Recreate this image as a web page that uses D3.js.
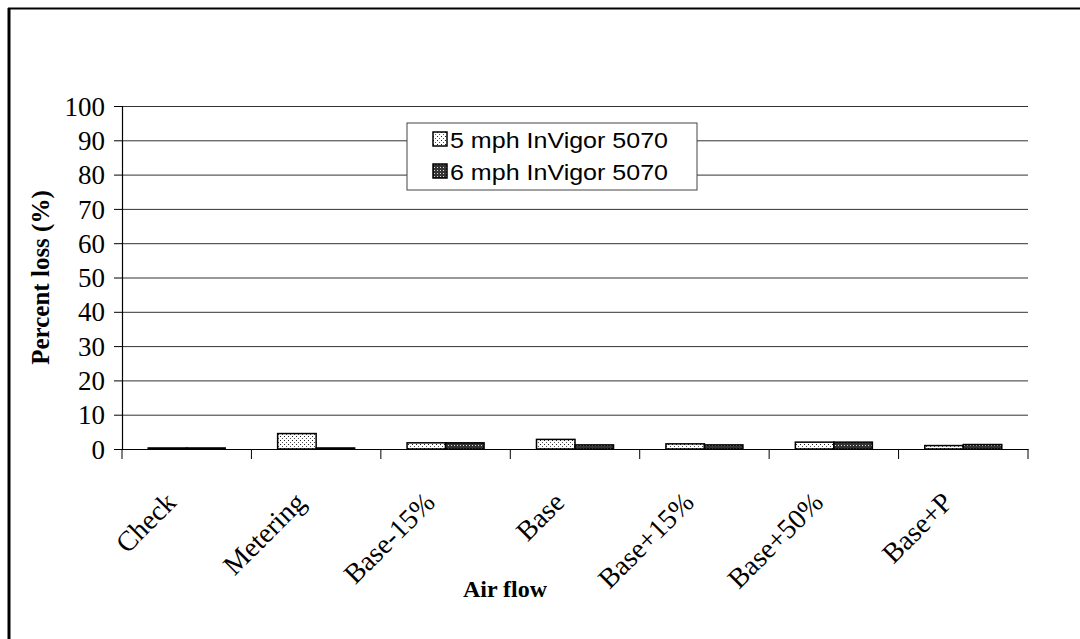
<!DOCTYPE html>
<html>
<head>
<meta charset="utf-8">
<script src="https://cdn.jsdelivr.net/npm/d3@7"></script>
<style>
  body { margin: 0; background: #fff; }
  svg { display: block; }
</style>
</head>
<body>
<div id="chart"></div>
<script>
const categories = ["Check", "Metering", "Base-15%", "Base", "Base+15%", "Base+50%", "Base+P"];
const seriesNames = ["5 mph InVigor 5070", "6 mph InVigor 5070"];
const mph5 = [0.3, 4.5, 1.8, 2.8, 1.5, 2.0, 1.0];
const mph6 = [0.3, 0.3, 1.8, 1.2, 1.2, 2.0, 1.3];
const yTicks = [0, 10, 20, 30, 40, 50, 60, 70, 80, 90, 100];

const width = 1080, height = 639;
const margin = { top: 106, right: 52, bottom: 190, left: 122 };
const serif = "Liberation Serif, Times New Roman, serif";

const svg = d3.select("#chart").append("svg")
  .attr("width", width).attr("height", height);

// patterns
const defs = svg.append("defs");
const p1 = defs.append("pattern").attr("id", "pat5")
  .attr("width", 4).attr("height", 4).attr("patternUnits", "userSpaceOnUse");
p1.append("rect").attr("width", 4).attr("height", 4).attr("fill", "#fff");
p1.append("rect").attr("x", 0).attr("y", 0).attr("width", 1).attr("height", 1).attr("fill", "#222");
p1.append("rect").attr("x", 2).attr("y", 2).attr("width", 1).attr("height", 1).attr("fill", "#555");
const p2 = defs.append("pattern").attr("id", "pat6")
  .attr("width", 3).attr("height", 3).attr("patternUnits", "userSpaceOnUse");
p2.append("rect").attr("width", 3).attr("height", 3).attr("fill", "#333");
p2.append("rect").attr("x", 1).attr("y", 1).attr("width", 1).attr("height", 1).attr("fill", "#ddd");

// outer frame
svg.append("line").attr("x1", 9).attr("x2", 9).attr("y1", 8).attr("y2", height)
  .attr("stroke", "#000").attr("stroke-width", 3);
svg.append("line").attr("x1", 8).attr("x2", width).attr("y1", 8.5).attr("y2", 8.5)
  .attr("stroke", "#000").attr("stroke-width", 2);

const x = d3.scaleBand().domain(categories)
  .range([margin.left, width - margin.right]);
const y = d3.scaleLinear().domain([0, 100])
  .range([height - margin.bottom, margin.top]);
const x1 = d3.scaleBand().domain(seriesNames)
  .range([0, 77]);

// gridlines
svg.append("g").selectAll("line").data(yTicks.slice(1)).join("line")
  .attr("x1", margin.left).attr("x2", width - margin.right)
  .attr("y1", d => y(d) + 0.5).attr("y2", d => y(d) + 0.5)
  .attr("stroke", "#333").attr("stroke-width", 1);

// bars
const series = [mph5, mph6];
const pats = ["url(#pat5)", "url(#pat6)"];
series.forEach((vals, si) => {
  svg.append("g").selectAll("rect").data(categories).join("rect")
    .attr("x", (c) => x(c) + (x.bandwidth() - 77) / 2 + x1(seriesNames[si]))
    .attr("y", (c, i) => y(vals[i]))
    .attr("width", x1.bandwidth())
    .attr("height", (c, i) => y(0) - y(vals[i]))
    .attr("fill", pats[si])
    .attr("stroke", "#000").attr("stroke-width", 1.5);
});

// y axis
const yAxis = svg.append("g")
  .attr("transform", `translate(${margin.left},0)`)
  .call(d3.axisLeft(y).tickValues(yTicks).tickSize(8).tickPadding(9));
yAxis.select(".domain").attr("stroke", "#000").attr("stroke-width", 1.2);
yAxis.selectAll("line").attr("stroke", "#000");
yAxis.selectAll("text")
  .attr("font-family", serif)
  .attr("font-size", 27).attr("fill", "#000")
  .attr("dy", "0.34em");

// x axis
const xAxis = svg.append("g")
  .attr("transform", `translate(0,${y(0)})`)
  .call(d3.axisBottom(x).tickSize(0).tickFormat(""));
xAxis.select(".domain").attr("stroke", "#000").attr("stroke-width", 1.2);
const bounds = d3.range(categories.length + 1).map(i => margin.left + i * x.step());
svg.append("g").selectAll("line").data(bounds).join("line")
  .attr("x1", d => d).attr("x2", d => d)
  .attr("y1", y(0)).attr("y2", y(0) + 10)
  .attr("stroke", "#000");
svg.append("g").selectAll("text").data(categories).join("text")
  .attr("transform", c => `translate(${x(c) + x.bandwidth() / 2 - 9},${y(0) + 55}) rotate(-45)`)
  .attr("text-anchor", "end")
  .attr("font-family", serif)
  .attr("font-size", 28).attr("fill", "#000")
  .text(c => c);

// axis titles
svg.append("text")
  .attr("transform", `translate(49,${(y(0) + y(100)) / 2}) rotate(-90)`)
  .attr("text-anchor", "middle")
  .attr("font-family", serif)
  .attr("font-weight", "bold").attr("font-size", 25)
  .text("Percent loss (%)");
svg.append("text")
  .attr("x", 505).attr("y", 597)
  .attr("text-anchor", "middle")
  .attr("font-family", serif)
  .attr("font-weight", "bold").attr("font-size", 24)
  .text("Air flow");

// legend
const lg = svg.append("g").attr("transform", "translate(407,123)");
lg.append("rect").attr("width", 290).attr("height", 67)
  .attr("fill", "#fff").attr("stroke", "#444").attr("stroke-width", 1);
seriesNames.forEach((s, i) => {
  const row = lg.append("g").attr("transform", `translate(26,${17 + i * 32})`);
  row.append("rect").attr("x", 0).attr("y", -8).attr("width", 14).attr("height", 14)
    .attr("fill", pats[i]).attr("stroke", "#000").attr("stroke-width", 1.5);
  row.append("text").attr("x", 17).attr("y", 7.5)
    .attr("font-family", "Liberation Sans, Arial, sans-serif")
    .attr("font-size", 22).attr("fill", "#000")
    .attr("textLength", 218).attr("lengthAdjust", "spacingAndGlyphs")
    .text(s);
});
</script>
</body>
</html>
